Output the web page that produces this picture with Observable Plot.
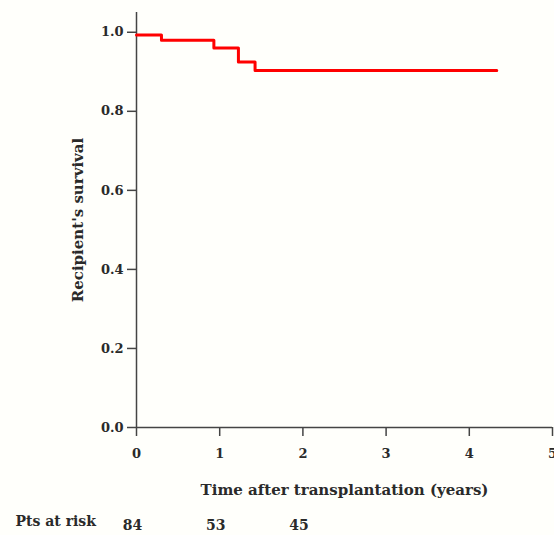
<!DOCTYPE html>
<html>
<head>
<meta charset="utf-8">
<script src="https://cdn.jsdelivr.net/npm/d3@7"></script>
<script src="https://cdn.jsdelivr.net/npm/@observablehq/plot@0.6"></script>
<style>
  html, body { margin: 0; padding: 0; background: #fffffb; }
  #chart svg { display: block; }
</style>
</head>
<body>
<div id="chart"></div>
<script>
const times = [0, 0.30, 0.93, 1.225, 1.425, 4.33];
const survival = [0.993, 0.980, 0.960, 0.925, 0.903, 0.903];
const xTicks = [0, 1, 2, 3, 4, 5];
const yTicks = [0, 0.2, 0.4, 0.6, 0.8, 1.0];
const riskTimes = [0, 1, 2];
const riskCounts = [84, 53, 45];
const xLabel = "Time after transplantation (years)";
const yLabel = "Recipient's survival";
const riskLabel = "Pts at risk";

const curve = times.map((t, i) => ({t, s: survival[i]}));
const risk = riskTimes.map((t, i) => ({t, n: riskCounts[i]}));

const font = "'DejaVu Serif', serif";
const ink = "#2a2a2a";

const chart = Plot.plot({
  width: 554,
  height: 535,
  marginLeft: 136,
  marginRight: 2,
  marginTop: 12,
  marginBottom: 108,
  style: {fontFamily: font, background: "#fffffb", color: ink, overflow: "visible"},
  x: {domain: [0, 5]},
  y: {domain: [0, 1.05]},
  marks: [
    Plot.axisY({ticks: yTicks, tickFormat: d3.format(".1f"), tickSize: 9, tickPadding: 4, label: null, fontSize: 13, fontWeight: "bold", stroke: "#444", strokeWidth: 1.5}),
    Plot.axisX({ticks: xTicks, tickFormat: d3.format("d"), tickSize: 9, tickPadding: 12, label: null, fontSize: 13, fontWeight: "bold", stroke: "#444", strokeWidth: 1.5}),
    Plot.ruleX([0], {y1: 0, y2: 1.05, stroke: "#444", strokeWidth: 1.5}),
    Plot.ruleY([0], {x1: 0, x2: 5, stroke: "#444", strokeWidth: 1.5}),
    Plot.line(curve, {x: "t", y: "s", curve: "step-after", stroke: "#ff0000", strokeWidth: 3}),
    Plot.text([xLabel], {frameAnchor: "bottom", dy: 67, fontSize: 15, fill: ink, fontWeight: "bold"}),
    Plot.text([yLabel], {frameAnchor: "left", textAnchor: "middle", rotate: -90, dx: -58, fontSize: 15, fill: ink, fontWeight: "bold"}),
    Plot.text(risk, {x: "t", y: 0, text: d => String(d.n), dy: 98, dx: -4, fontSize: 14, fill: ink, fontWeight: "bold"}),
    Plot.text([riskLabel], {frameAnchor: "bottom-left", dx: -121, dy: 98, textAnchor: "start", fontSize: 14, fill: ink, fontWeight: "bold"})
  ]
});
document.getElementById("chart").appendChild(chart);
</script>
</body>
</html>
